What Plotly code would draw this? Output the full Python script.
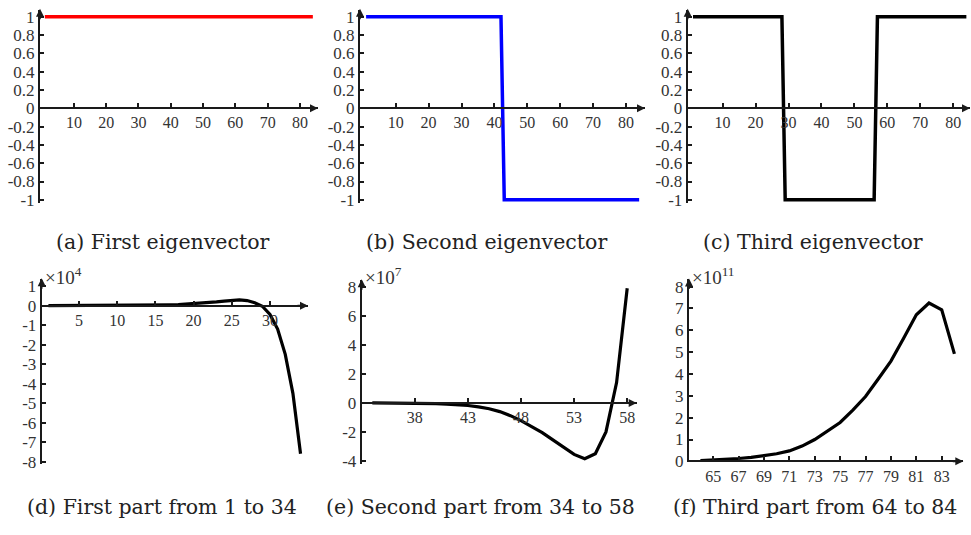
import plotly.graph_objects as go

W, H = 971, 535

# ---- data -------------------------------------------------------------
eig_index = list(range(1, 85))
first_eigvec = [1.0] * 84
second_eigvec = [1.0] * 42 + [-1.0] * 42
third_eigvec = [1.0] * 28 + [-1.0] * 28 + [1.0] * 28

part1_x = list(range(1, 35))
part1_y = [0, 0, 0, 0, 0, 0, 0, 0, 0, 0, 0.005, 0.008, 0.01, 0.015, 0.02,
           0.03, 0.04, 0.05, 0.07, 0.09, 0.12, 0.15, 0.19, 0.23, 0.27, 0.29,
           0.26, 0.15, -0.03, -0.45, -1.2, -2.5, -4.5, -7.6]          # x 1e4

part2_x = list(range(34, 59))
part2_y = [0, 0, -0.01, -0.01, -0.02, -0.03, -0.05, -0.08, -0.12, -0.18,
           -0.28, -0.4, -0.6, -0.88, -1.22, -1.62, -2.05, -2.55, -3.05, -3.55,
           -3.85, -3.5, -2.0, 1.4, 7.9]                               # x 1e7

part3_x = list(range(64, 85))
part3_y = [0.04, 0.06, 0.09, 0.13, 0.18, 0.25, 0.35, 0.48, 0.7, 1.0, 1.38,
           1.78, 2.35, 2.97, 3.77, 4.59, 5.64, 6.71, 7.25, 6.94, 4.92]  # x 1e11

eig_xticks = [10, 20, 30, 40, 50, 60, 70, 80]
eig_yticks = [1, 0.8, 0.6, 0.4, 0.2, 0, -0.2, -0.4, -0.6, -0.8, -1]
part1_xticks = [5, 10, 15, 20, 25, 30]
part1_yticks = [1, 0, -1, -2, -3, -4, -5, -6, -7, -8]
part2_xticks = [38, 43, 48, 53, 58]
part2_yticks = [8, 6, 4, 2, 0, -2, -4]
part3_xticks = [65, 67, 69, 71, 73, 75, 77, 79, 81, 83]
part3_yticks = [0, 1, 2, 3, 4, 5, 6, 7, 8]

captions = ["(a) First eigenvector", "(b) Second eigenvector",
            "(c) Third eigenvector", "(d) First part from 1 to 34",
            "(e) Second part from 34 to 58", "(f) Third part from 64 to 84"]
exponents = [None, None, None, "4", "7", "11"]

# ---- panel geometry (pixels) -----------------------------------------
# left edge, x value at left edge, px per x unit, right edge,
# y=0 pixel, px per y unit, top pixel, bottom pixel
geom = [
    (40.0, -0.5, 3.229, 318.0, 108.5, 93.5, 8.0, 205.0),
    (360.0, -0.85, 3.29, 645.0, 108.5, 93.5, 8.0, 205.0),
    (687.7, -0.6, 3.294, 970.0, 108.5, 93.5, 8.0, 205.0),
    (41.7, 0.12, 7.64, 308.0, 310.0, 19.9, 283.0, 472.0),
    (361.7, 33.0, 10.62, 636.7, 409.3, 14.82, 284.0, 471.7),
    (689.0, 63.1, 12.7, 963.3, 469.0, 22.3, 283.3, 470.0),
]
caption_pos = [(163, 245), (487, 245), (813, 245),
               (162, 516), (480, 516), (815, 516)]

series = [
    (eig_index, first_eigvec, "#ff0000", 3.5),
    (eig_index, second_eigvec, "#0000ff", 3.5),
    (eig_index, third_eigvec, "#000000", 3.5),
    (part1_x, part1_y, "#000000", 3.2),
    (part2_x, part2_y, "#000000", 3.2),
    (part3_x, part3_y, "#000000", 3.2),
]
xticks = [eig_xticks, eig_xticks, eig_xticks, part1_xticks, part2_xticks, part3_xticks]
yticks = [eig_yticks, eig_yticks, eig_yticks, part1_yticks, part2_yticks, part3_yticks]


def fmt(v):
    return ("%g" % v).replace("\u2212", "-")


AX = "#1a1a1a"
XTICKFONT = dict(family="Liberation Serif", size=16, color="#333333")
YTICKFONT = dict(family="Liberation Serif", size=17, color="#333333")
CAPFONT = dict(family="DejaVu Serif", size=20.5, color="#222222")

fig = go.Figure()
layout = dict(width=W, height=H, margin=dict(l=0, r=0, t=0, b=0),
              paper_bgcolor="white", plot_bgcolor="white", showlegend=False)
annotations = []

for i, ((xs, ys, col, lw), g) in enumerate(zip(series, geom)):
    n = "" if i == 0 else str(i + 1)
    left, xl, xu, right, y0p, yu, top, bot = g
    xr = [xl, xl + (right - left) / xu]
    yr = [(y0p - bot) / yu, (y0p - top) / yu]
    fig.add_trace(go.Scatter(x=xs, y=ys, mode="lines",
                             line=dict(color=col, width=lw),
                             xaxis="x" + n, yaxis="y" + n, cliponaxis=False))
    layout["xaxis" + n] = dict(
        domain=[left / W, right / W], range=xr, anchor="free",
        position=1 - y0p / H, showline=True, linecolor=AX, linewidth=2,
        ticks="inside", ticklen=4, tickwidth=2, tickcolor=AX,
        tickvals=xticks[i], ticktext=[fmt(v) for v in xticks[i]],
        showgrid=False, zeroline=False, tickfont=XTICKFONT)
    layout["yaxis" + n] = dict(
        domain=[1 - bot / H, 1 - top / H], range=yr, anchor="x" + n,
        showline=True, linecolor=AX, linewidth=2,
        ticks="inside", ticklen=4, tickwidth=2, tickcolor=AX,
        tickvals=yticks[i], ticktext=[fmt(v) for v in yticks[i]],
        showgrid=False, zeroline=False, tickfont=YTICKFONT)
    # arrowheads on both axes
    annotations.append(dict(x=right / W, y=1 - y0p / H, xref="paper", yref="paper",
                            ax=-12, ay=0, text="", showarrow=True, arrowhead=2,
                            arrowsize=1, arrowwidth=1.6, arrowcolor=AX))
    annotations.append(dict(x=left / W, y=1 - (top - 1) / H, xref="paper", yref="paper",
                            ax=0, ay=12, text="", showarrow=True, arrowhead=2,
                            arrowsize=1, arrowwidth=1.6, arrowcolor=AX))
    if exponents[i]:
        annotations.append(dict(x=(left + 1) / W, y=1 - 280 / H, xref="paper", yref="paper",
                                xanchor="left", yanchor="middle", showarrow=False,
                                text="\u00d710<sup>%s</sup>" % exponents[i],
                                font=dict(family="Liberation Serif", size=19, color="#333333")))
    cx, cy = caption_pos[i]
    annotations.append(dict(x=cx / W, y=1 - cy / H, xref="paper", yref="paper",
                            xanchor="center", yanchor="middle", showarrow=False,
                            text=captions[i], font=CAPFONT))

layout["annotations"] = annotations
fig.update_layout(**layout)
fig.write_html("out.html")
